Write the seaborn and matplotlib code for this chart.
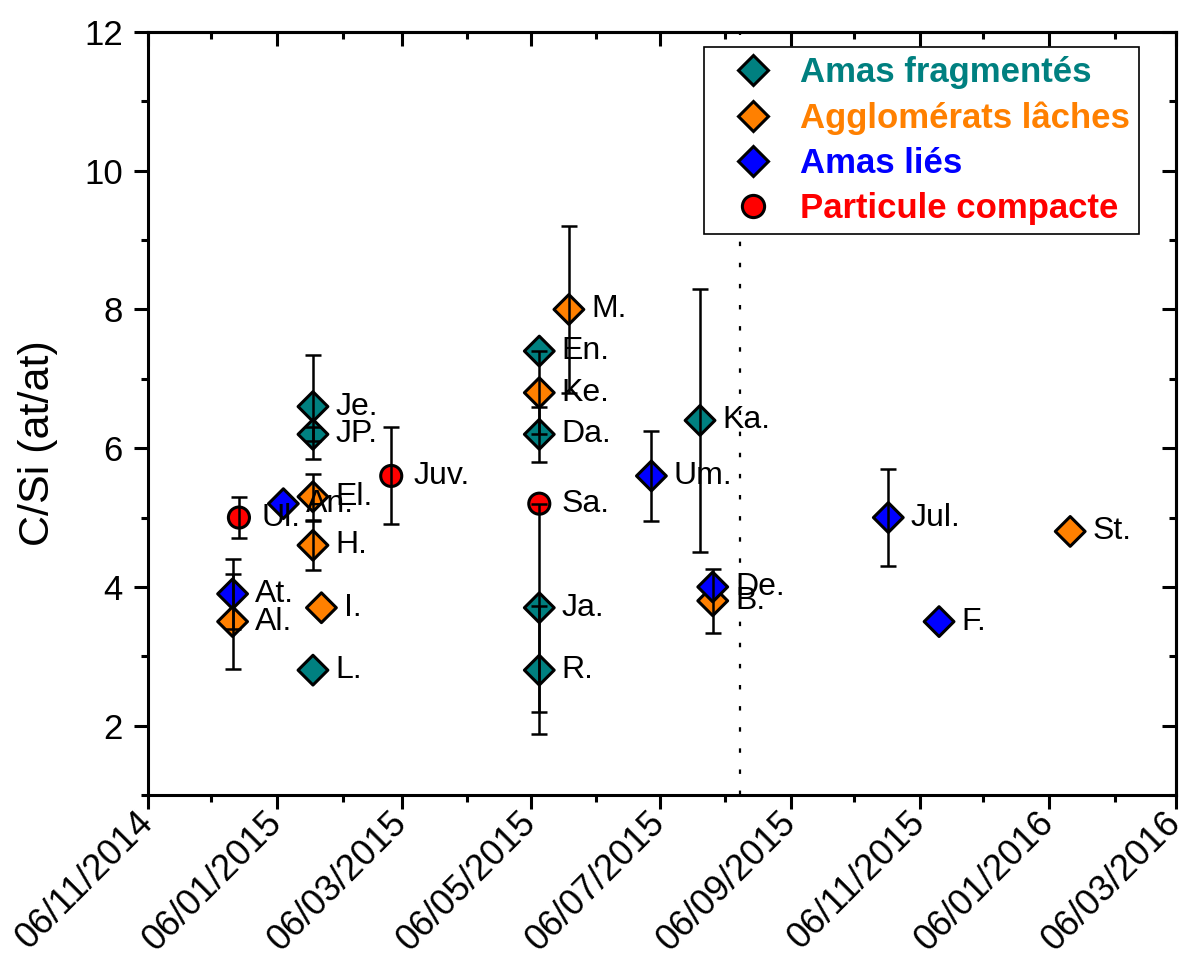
import pandas as pd
import matplotlib
matplotlib.use("Agg")
import matplotlib.pyplot as plt
import matplotlib.dates as mdates
from matplotlib.lines import Line2D
import seaborn as sns

# === Data ===
labels = ["At.", "Al.", "Ul.", "An.", "Je.", "JP.", "El.", "H.", "L.", "I.",
          "Juv.", "En.", "Ke.", "Da.", "Sa.", "Ja.", "R.", "M.", "Um.", "Ka.",
          "B.", "De.", "Jul.", "F.", "St."]
dates = ["2014-12-16", "2014-12-16", "2014-12-19", "2015-01-09", "2015-01-23",
         "2015-01-23", "2015-01-23", "2015-01-23", "2015-01-23", "2015-01-27",
         "2015-03-01", "2015-05-10", "2015-05-10", "2015-05-10", "2015-05-10",
         "2015-05-10", "2015-05-10", "2015-05-24", "2015-07-02", "2015-07-25",
         "2015-07-31", "2015-07-31", "2015-10-22", "2015-11-15", "2016-01-16"]
values = [3.9, 3.5, 5.0, 5.2, 6.6, 6.2, 5.3, 4.6, 2.8, 3.7,
          5.6, 7.4, 6.8, 6.2, 5.2, 3.7, 2.8, 8.0, 5.6, 6.4,
          3.8, 4.0, 5.0, 3.5, 4.8]
errors = [0.5, 0.68, 0.3, 0, 0.75, 0.1, 0.33, 0.35, 0, 0,
          0.7, 0, 0.6, 0.4, 0, 1.5, 0.92, 1.2, 0.65, 1.9,
          0.46, 0, 0.7, 0, 0]
groups = ["Amas liés", "Agglomérats lâches", "Particule compacte", "Amas liés",
          "Amas fragmentés", "Amas fragmentés", "Agglomérats lâches", "Agglomérats lâches",
          "Amas fragmentés", "Agglomérats lâches", "Particule compacte", "Amas fragmentés",
          "Agglomérats lâches", "Amas fragmentés", "Particule compacte", "Amas fragmentés",
          "Amas fragmentés", "Agglomérats lâches", "Amas liés", "Amas fragmentés",
          "Agglomérats lâches", "Amas liés", "Amas liés", "Amas liés", "Agglomérats lâches"]

group_order = ["Amas fragmentés", "Agglomérats lâches", "Amas liés", "Particule compacte"]
group_colors = ["#008080", "#FF8000", "#0000FF", "#FF0000"]
group_markers = ["D", "D", "D", "o"]

divider_date = "2015-08-13"
x_start, x_end = "2014-11-06", "2016-03-06"

df = pd.DataFrame({"label": labels, "date": pd.to_datetime(dates),
                   "value": values, "err": errors, "group": groups})

# === Plot ===
sns.set_style("ticks")
plt.rcParams["font.family"] = ["Liberation Sans", "DejaVu Sans"]
for k in ["text.color", "axes.edgecolor", "axes.labelcolor", "xtick.color", "ytick.color"]:
    plt.rcParams[k] = "black"

fig, ax = plt.subplots(figsize=(11.82, 9.64), dpi=100)
fig.subplots_adjust(left=0.1252, right=0.9949, top=0.9668, bottom=0.1753)

ax.axvline(pd.Timestamp(divider_date), color="black", linestyle=(0, (2, 7.5)), lw=1.6, zorder=1)

sns.scatterplot(data=df, x="date", y="value", hue="group", style="group",
                hue_order=group_order, style_order=group_order,
                palette=dict(zip(group_order, group_colors)),
                markers=dict(zip(group_order, group_markers)),
                s=230, edgecolor="black", linewidth=2.2, legend=False, ax=ax, zorder=2)

e = df[df["err"] > 0]
ax.errorbar(e["date"], e["value"], yerr=e["err"], fmt="none", ecolor="black",
            elinewidth=1.8, capsize=5.5, capthick=1.8, zorder=3)

for _, r in df.iterrows():
    ax.annotate(r["label"], (r["date"], r["value"]), xytext=(16, 0),
                textcoords="offset points", va="center", ha="left", fontsize=23)

ax.set_xlim(pd.Timestamp(x_start), pd.Timestamp(x_end))
ax.set_ylim(1, 12)
ax.set_yticks([2, 4, 6, 8, 10, 12])
ax.set_yticks([1, 3, 5, 7, 9, 11], minor=True)

ax.xaxis.set_major_locator(mdates.MonthLocator(bymonth=[1, 3, 5, 7, 9, 11], bymonthday=6))
ax.xaxis.set_minor_locator(mdates.MonthLocator(bymonth=[2, 4, 6, 8, 10, 12], bymonthday=6))
ax.xaxis.set_major_formatter(mdates.DateFormatter("%d/%m/%Y"))

ax.set_xlabel("")
ax.set_ylabel("C/Si (at/at)", fontsize=31)
ax.yaxis.set_label_coords(-0.088, 0.461)
ax.tick_params(axis="both", which="major", direction="out", length=10, width=2.2, labelsize=25)
ax.tick_params(axis="y", which="major", pad=8)
ax.tick_params(axis="x", which="major", pad=6, labelsize=26)
ax.tick_params(axis="both", which="minor", direction="out", length=5, width=2.2)
for lab in ax.get_xticklabels():
    lab.set_rotation(45)
    lab.set_ha("right")
    lab.set_va("center")
    lab.set_rotation_mode("anchor")

for sp in ax.spines.values():
    sp.set_visible(True)
    sp.set_linewidth(2.2)

# inward ticks on top and right
top = ax.secondary_xaxis("top")
top.xaxis.set_major_locator(mdates.MonthLocator(bymonth=[1, 3, 5, 7, 9, 11], bymonthday=6))
top.xaxis.set_minor_locator(mdates.MonthLocator(bymonth=[2, 4, 6, 8, 10, 12], bymonthday=6))
top.tick_params(which="major", direction="in", length=10, width=2.2, labeltop=False)
top.tick_params(which="minor", direction="in", length=5, width=2.2)
top.spines["top"].set_linewidth(2.2)
right = ax.secondary_yaxis("right")
right.set_yticks([2, 4, 6, 8, 10, 12])
right.set_yticks([1, 3, 5, 7, 9, 11], minor=True)
right.tick_params(which="major", direction="in", length=10, width=2.2, labelright=False)
right.tick_params(which="minor", direction="in", length=5, width=2.2)
right.spines["right"].set_linewidth(2.2)

handles = [Line2D([], [], linestyle="none", marker=m, markersize=15 if m == "D" else 16,
                  markerfacecolor=c, markeredgecolor="black", markeredgewidth=2.2)
           for m, c in zip(group_markers, group_colors)]
leg = ax.legend(handles, group_order, loc="upper right", bbox_to_anchor=(0.964, 0.980),
                borderaxespad=0, frameon=True, fancybox=False, framealpha=1,
                edgecolor="black", handlelength=2.32, handletextpad=0.2,
                labelspacing=0.35, borderpad=0.26, labelcolor=group_colors,
                prop={"weight": "bold", "size": 25})
leg.get_frame().set_linewidth(1.2)

fig.savefig("out.png", dpi=100)
